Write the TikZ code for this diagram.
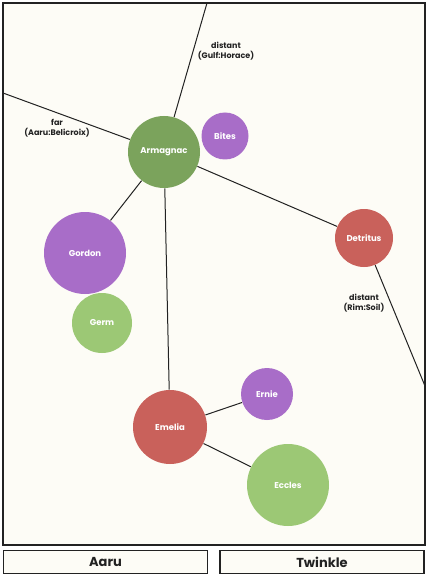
\documentclass[tikz,border=0pt]{standalone}
\usepackage{fontspec}
\setmainfont{Poppins}
\definecolor{paper}{HTML}{FDFCF6}
\definecolor{darkgreen}{HTML}{7BA35C}
\definecolor{lightgreen}{HTML}{9CC875}
\definecolor{violet}{HTML}{A86DC8}
\definecolor{rust}{HTML}{C9615B}
\definecolor{ink}{HTML}{222222}
\begin{document}
\begin{tikzpicture}[x=1pt, y=-1pt, line width=0.8pt]
	\tikzstyle{planet} = [circle, inner sep=0pt, draw=none, text=white, font=\bfseries\fontsize{8.5}{10}\selectfont]
	\tikzstyle{link} = [draw=ink, line width=1pt]
	\tikzstyle{note} = [align=center, text=ink, font=\bfseries\fontsize{8}{9.5}\selectfont, inner sep=0pt]
	\tikzstyle{tab} = [rectangle, draw=ink, line width=1.6pt, fill=paper, minimum width=204pt, minimum height=23pt, font=\bfseries\fontsize{13}{15}\selectfont, text=ink]
	\useasboundingbox (0,0) rectangle (429,580);
	\fill[white] (0,0) rectangle (429,580);
	\draw[ink, line width=1.6pt, fill=paper] (3,3) rectangle (425,545);
	% free ends on the frame
	\coordinate (TOP_END) at (207,3);
	\coordinate (LEFT_END) at (3,93);
	\coordinate (RIGHT_END) at (425,386);
	% planets
	\node (ARMAGNAC) [planet, fill=darkgreen, minimum size=72pt] at (164,152) {Armagnac};
	\node (BITES) [planet, fill=violet, minimum size=47pt] at (225,136) {Bites};
	\node (GORDON) [planet, fill=violet, minimum size=82pt] at (85,253) {Gordon};
	\node (GERM) [planet, fill=lightgreen, minimum size=60pt] at (102,323) {Germ};
	\node (DETRITUS) [planet, fill=rust, minimum size=58pt] at (364,238) {Detritus};
	\node (ERNIE) [planet, fill=violet, minimum size=52pt] at (267,394) {Ernie};
	\node (EMELIA) [planet, fill=rust, minimum size=74pt] at (170,427) {Emelia};
	\node (ECCLES) [planet, fill=lightgreen, minimum size=82pt] at (288,485) {Eccles};
	% links
	\draw[link] (ARMAGNAC) -- (TOP_END);
	\draw[link] (ARMAGNAC) -- (LEFT_END);
	\draw[link] (ARMAGNAC) -- (DETRITUS);
	\draw[link] (ARMAGNAC) -- (GORDON);
	\draw[link] (ARMAGNAC) -- (EMELIA);
	\draw[link] (EMELIA) -- (ERNIE);
	\draw[link] (EMELIA) -- (ECCLES);
	\draw[link] (DETRITUS) -- (RIGHT_END);
	% labels
	\node (GULF_NOTE) [note] at (226,51) {distant\\(Gulf:Horace)};
	\node (AARU_NOTE) [note] at (57,128) {far\\(Aaru:Belicroix)};
	\node (RIM_NOTE) [note] at (364,303) {distant\\(Rim:Soil)};
	% tabs
	\node (AARU) [tab] at (105.5,562) {Aaru};
	\node (TWINKLE) [tab] at (322,562) {Twinkle};
\end{tikzpicture}
\end{document}
